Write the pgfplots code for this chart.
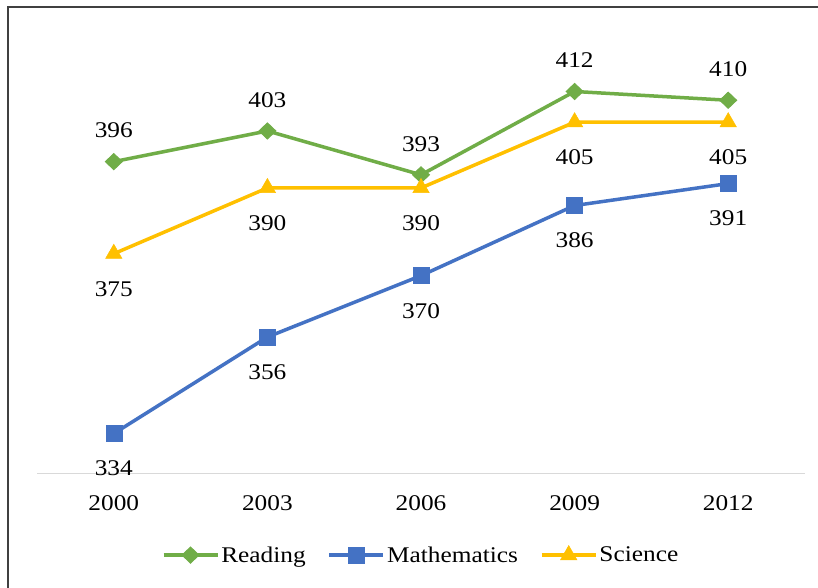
\documentclass[border=0pt]{standalone}
\usepackage{fontspec}
\setmainfont{Liberation Serif}[FakeStretch=1.13]
\usepackage{pgfplots}
\pgfplotsset{compat=1.18}

\definecolor{readgreen}{HTML}{70AD47}
\definecolor{mathblue}{HTML}{4472C4}
\definecolor{sciyellow}{HTML}{FFC000}
\definecolor{axisgray}{HTML}{D9D9D9}
\definecolor{framegray}{HTML}{404040}

\newcommand{\chartfont}{\fontsize{22.5}{26}\selectfont}

\begin{document}
\begin{tikzpicture}[x=1bp,y=1bp]
\useasboundingbox (0,0) rectangle (818,-588);
\fill[white] (0,0) rectangle (818,-588);
\draw[framegray, line width=2bp] (8,-588) -- (8,-7) -- (818,-7);
\begin{axis}[
  at={(37bp,-473bp)}, anchor=south west,
  scale only axis, width=768bp, height=416.6bp,
  xmin=-0.5, xmax=4.5, ymin=325, ymax=420,
  axis y line=none,
  axis x line*=bottom,
  x axis line style={axisgray, line width=1bp},
  xtick={0,1,2,3,4},
  xticklabels={2000,2003,2006,2009,2012},
  major tick length=0pt,
  ytick=\empty,
  xticklabel style={font=\chartfont, yshift=-18bp},
  /pgf/number format/assume math mode=true,
  legend columns=3,
  legend style={at={(0.5,-0.197)}, anchor=center, draw=none, fill=none,
    font=\chartfont, /tikz/every even column/.append style={column sep=20bp}},
  legend image code/.code={%
    \draw[mark repeat=2,mark phase=2,#1] plot coordinates {(0bp,0bp) (27bp,0bp) (54bp,0bp)};},
  line width=3.5bp,
]
\addplot[color=readgreen, mark=diamond*, mark size=8bp, mark options={solid, xscale=1.4, line width=1bp},
  nodes near coords, every node near coord/.append style={anchor=center, yshift=31bp, text=black, font=\chartfont}]
  coordinates {(0,396) (1,403) (2,393) (3,412) (4,410)};
\addlegendentry{Reading}
\addplot[color=mathblue, mark=square*, mark size=8bp, mark options={solid, line width=0.5bp},
  nodes near coords, every node near coord/.append style={anchor=center, yshift=-35bp, text=black, font=\chartfont}]
  coordinates {(0,334) (1,356) (2,370) (3,386) (4,391)};
\addlegendentry{Mathematics}
\addplot[color=sciyellow, mark=triangle*, mark size=9.5bp, mark options={solid, line width=0.5bp},
  nodes near coords, every node near coord/.append style={anchor=center, yshift=-35bp, text=black, font=\chartfont}]
  coordinates {(0,375) (1,390) (2,390) (3,405) (4,405)};
\addlegendentry{Science}
\end{axis}
\end{tikzpicture}
\end{document}
